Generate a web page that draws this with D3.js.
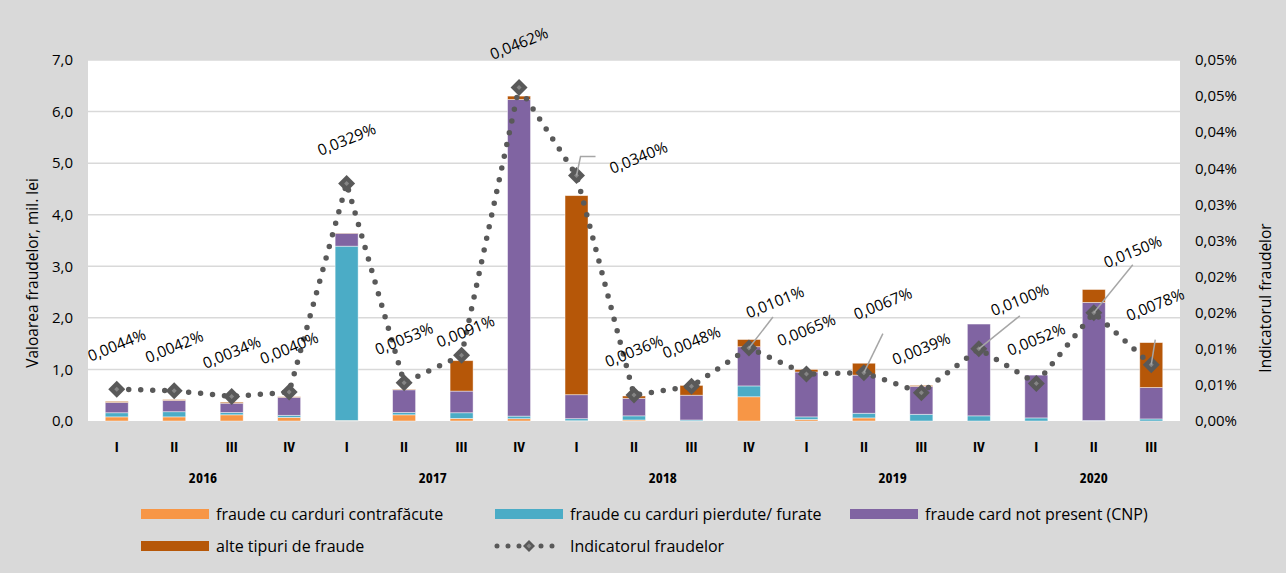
<!DOCTYPE html>
<html lang="ro">
<head>
<meta charset="UTF-8">
<title>Fraude carduri</title>
<style>
  body { margin: 0; background: #d9d9d9; }
  svg { display: block; font-family: "Open Sans", "Noto Sans", sans-serif; }
  .tick-l, .tick-r { font-size: 15px; fill: #000; }
  .qlab { font-size: 15px; font-weight: bold; font-stretch: 75%; }
  .ylab { font-size: 15px; font-weight: bold; font-stretch: 75%; }
  .dlab { font-size: 15.5px; }
  .leg { font-size: 16px; }
</style>
</head>
<body>
<script src="https://cdnjs.cloudflare.com/ajax/libs/d3/7.8.5/d3.min.js"></script>
<script>
var quarters = ["I", "II", "III", "IV", "I", "II", "III", "IV", "I", "II", "III", "IV",
                "I", "II", "III", "IV", "I", "II", "III"]
var years = ["2016", "2017", "2018", "2019", "2020"]
var yearQuarters = [4, 4, 4, 4, 3]

// mil. lei
var contrafacute = [0.08, 0.08, 0.12, 0.07, 0.01, 0.12, 0.05, 0.045, 0.005, 0.02, 0.0, 0.47,
                    0.03, 0.06, 0.0, 0.0, 0.0, 0.0, 0.0]
var pierdute = [0.08, 0.10, 0.045, 0.04, 3.38, 0.045, 0.11, 0.05, 0.04, 0.08, 0.02, 0.21,
                0.05, 0.09, 0.13, 0.10, 0.06, 0.01, 0.04]
var cnp = [0.20, 0.22, 0.18, 0.35, 0.25, 0.44, 0.42, 6.14, 0.465, 0.34, 0.48, 0.76,
           0.87, 0.74, 0.54, 1.78, 0.83, 2.29, 0.61]
var alte = [0.02, 0.015, 0.02, 0.01, 0.005, 0.01, 0.59, 0.065, 3.86, 0.045, 0.19, 0.14,
            0.05, 0.23, 0.02, 0.0, 0.0, 0.25, 0.87]
// %
var indicator = [0.0044, 0.0042, 0.0034, 0.0040, 0.0329, 0.0053, 0.0091, 0.0462, 0.0340, 0.0036,
                 0.0048, 0.0101, 0.0065, 0.0067, 0.0039, 0.0100, 0.0052, 0.0150, 0.0078]

var leftTicks = [0, 1, 2, 3, 4, 5, 6, 7]
var leftTickLabels = ["0,0", "1,0", "2,0", "3,0", "4,0", "5,0", "6,0", "7,0"]
var rightTicks = [0, 0.005, 0.01, 0.015, 0.02, 0.025, 0.03, 0.035, 0.04, 0.045, 0.05]
var rightTickLabels = ["0,00%", "0,01%", "0,01%", "0,02%", "0,02%", "0,03%", "0,03%",
                       "0,04%", "0,04%", "0,05%", "0,05%"]

var seriesNames = ["fraude cu carduri contrafăcute", "fraude cu carduri pierdute/ furate",
                   "fraude card not present (CNP)", "alte tipuri de fraude"]
var seriesColors = ["#f79646", "#4bacc6", "#8064a2", "#b65708"]
var lineName = "Indicatorul fraudelor"

// label placement (offset of label centre from its marker) and leader lines
var labelShift = {6: [4, -24], 8: [62, -18], 11: [26, -46], 13: [19, -69], 15: [41, -49], 17: [39, -61], 18: [4, -60]}
var leaders = {
  8: [[0, 0], [4, -19], [19, -19]],
  11: [[0, 0], [24, -31]],
  13: [[0, 0], [19, -39]],
  15: [[0, 0], [41, -33]],
  17: [[0, 0], [39, -48]],
  18: [[0, 0], [4, -25]]
}

var W = 1286, H = 573
var plot = {left: 88, right: 1180, top: 60, bottom: 421}

var svg = d3.select("body").append("svg")
    .attr("width", W)
    .attr("height", H)

svg.append("rect").attr("width", W).attr("height", H).attr("fill", "#d9d9d9")
svg.append("rect")
    .attr("x", plot.left).attr("y", plot.top)
    .attr("width", plot.right - plot.left).attr("height", plot.bottom - plot.top)
    .attr("fill", "#fff")

var x = d3.scaleBand()
    .domain(d3.range(quarters.length))
    .range([plot.left, plot.right])
    .paddingInner(0.6)
    .paddingOuter(0.3)

var y = d3.scaleLinear().domain([0, 7]).range([plot.bottom, plot.top])
var y2 = d3.scaleLinear().domain([0, 0.05]).range([plot.bottom, plot.top])

function cx(i) { return x(i) + x.bandwidth() / 2 }

// grid
svg.append("g").selectAll("line")
  .data(leftTicks.filter(function (d) { return d > 0 }))
  .enter().append("line")
    .attr("x1", plot.left).attr("x2", plot.right)
    .attr("y1", function (d) { return y(d) }).attr("y2", function (d) { return y(d) })
    .attr("stroke", "#d9d9d9").attr("stroke-width", 1.5)

// left axis labels
svg.append("g").selectAll("text")
  .data(leftTicks)
  .enter().append("text")
    .attr("class", "tick-l")
    .attr("x", 73)
    .attr("y", function (d) { return y(d) })
    .attr("dy", "0.35em")
    .attr("text-anchor", "end")
    .text(function (d, i) { return leftTickLabels[i] })

// right axis labels
svg.append("g").selectAll("text")
  .data(rightTicks)
  .enter().append("text")
    .attr("class", "tick-r")
    .attr("x", 1195)
    .attr("y", function (d) { return y2(d) })
    .attr("dy", "0.35em")
    .text(function (d, i) { return rightTickLabels[i] })

svg.append("text")
    .attr("transform", "translate(33,273) rotate(-90)")
    .attr("text-anchor", "middle").attr("dy", "0.35em")
    .style("font-size", "15.5px")
    .text("Valoarea fraudelor, mil. lei")

svg.append("text")
    .attr("transform", "translate(1266,298) rotate(-90)")
    .attr("text-anchor", "middle").attr("dy", "0.35em")
    .style("font-size", "15.5px")
    .text("Indicatorul fraudelor")

// stacked bars
var rows = quarters.map(function (q, i) {
  return {i: i, s0: contrafacute[i], s1: pierdute[i], s2: cnp[i], s3: alte[i]}
})
var stack = d3.stack().keys(["s0", "s1", "s2", "s3"])(rows)

svg.append("g").selectAll("g")
  .data(stack)
  .enter().append("g")
    .attr("fill", function (d, k) { return seriesColors[k] })
  .selectAll("rect")
  .data(function (d) { return d })
  .enter().append("rect")
    .attr("x", function (d) { return x(d.data.i) })
    .attr("width", x.bandwidth())
    .attr("y", function (d) { return y(d[1]) })
    .attr("height", function (d) { return y(d[0]) - y(d[1]) })
    .attr("stroke", "#fff").attr("stroke-opacity", 0.55).attr("stroke-width", 0.8)

// quarter and year labels
svg.append("g").selectAll("text")
  .data(quarters)
  .enter().append("text")
    .attr("class", "qlab")
    .attr("x", function (d, i) { return cx(i) })
    .attr("y", 447).attr("dy", "0.35em")
    .attr("text-anchor", "middle")
    .text(function (d) { return d })

var start = 0
years.forEach(function (yr, k) {
  var a = start, b = start + yearQuarters[k] - 1
  svg.append("text")
      .attr("class", "ylab")
      .attr("x", (cx(a) + cx(b)) / 2)
      .attr("y", 478).attr("dy", "0.35em")
      .attr("text-anchor", "middle")
      .text(yr)
  start += yearQuarters[k]
})

// indicator line (dotted, straight segments)
var line = d3.line()
    .x(function (d, i) { return cx(i) })
    .y(function (d) { return y2(d) })

svg.append("path")
    .datum(indicator)
    .attr("d", line)
    .attr("fill", "none")
    .attr("stroke", "#595959")
    .attr("stroke-width", 5.5)
    .attr("stroke-linecap", "round")
    .attr("stroke-dasharray", "0 12")

function diamond(g, px, py, r) {
  g.append("path")
      .attr("d", "M" + px + "," + (py - r) + "L" + (px + r) + "," + py + "L" + px + "," + (py + r) + "L" + (px - r) + "," + py + "Z")
      .attr("fill", "#595959")
  g.append("path")
      .attr("d", "M" + px + "," + (py - 2.5) + "L" + (px + 2.5) + "," + py + "L" + px + "," + (py + 2.5) + "L" + (px - 2.5) + "," + py + "Z")
      .attr("fill", "#858585")
}

var mk = svg.append("g")
indicator.forEach(function (v, i) { diamond(mk, cx(i), y2(v), 8.5) })

// leader lines
Object.keys(leaders).forEach(function (k) {
  var i = +k, px = cx(i), py = y2(indicator[i])
  svg.append("path")
      .attr("d", d3.line()(leaders[k].map(function (p) { return [px + p[0], py + p[1]] })))
      .attr("fill", "none").attr("stroke", "#a6a6a6").attr("stroke-width", 1.5)
})

// data labels
var fmt = function (v) { return v.toFixed(4).replace(".", ",") + "%" }
svg.append("g").selectAll("text")
  .data(indicator)
  .enter().append("text")
    .attr("class", "dlab")
    .attr("transform", function (d, i) {
      var s = labelShift[i] || [0, -44]
      return "translate(" + (cx(i) + s[0]) + "," + (y2(d) + s[1]) + ") rotate(-22)"
    })
    .attr("text-anchor", "middle").attr("dy", "0.35em")
    .text(fmt)

// legend
var legendItems = [
  {name: seriesNames[0], color: seriesColors[0], x: 141, y: 514},
  {name: seriesNames[1], color: seriesColors[1], x: 495, y: 514},
  {name: seriesNames[2], color: seriesColors[2], x: 850, y: 514},
  {name: seriesNames[3], color: seriesColors[3], x: 141, y: 546},
  {name: lineName, line: true, x: 495, y: 546}
]
var lg = svg.append("g")
legendItems.forEach(function (d) {
  if (d.line) {
    lg.append("line")
        .attr("x1", d.x + 2).attr("x2", d.x + 66).attr("y1", d.y).attr("y2", d.y)
        .attr("stroke", "#595959").attr("stroke-width", 5)
        .attr("stroke-linecap", "round").attr("stroke-dasharray", "0 11")
    diamond(lg, d.x + 34, d.y, 6)
  } else {
    lg.append("rect")
        .attr("x", d.x).attr("y", d.y - 5)
        .attr("width", 68).attr("height", 10)
        .attr("fill", d.color)
  }
  lg.append("text")
      .attr("class", "leg")
      .attr("x", d.x + 75).attr("y", d.y).attr("dy", "0.35em")
      .text(d.name)
})
</script>
</body>
</html>
